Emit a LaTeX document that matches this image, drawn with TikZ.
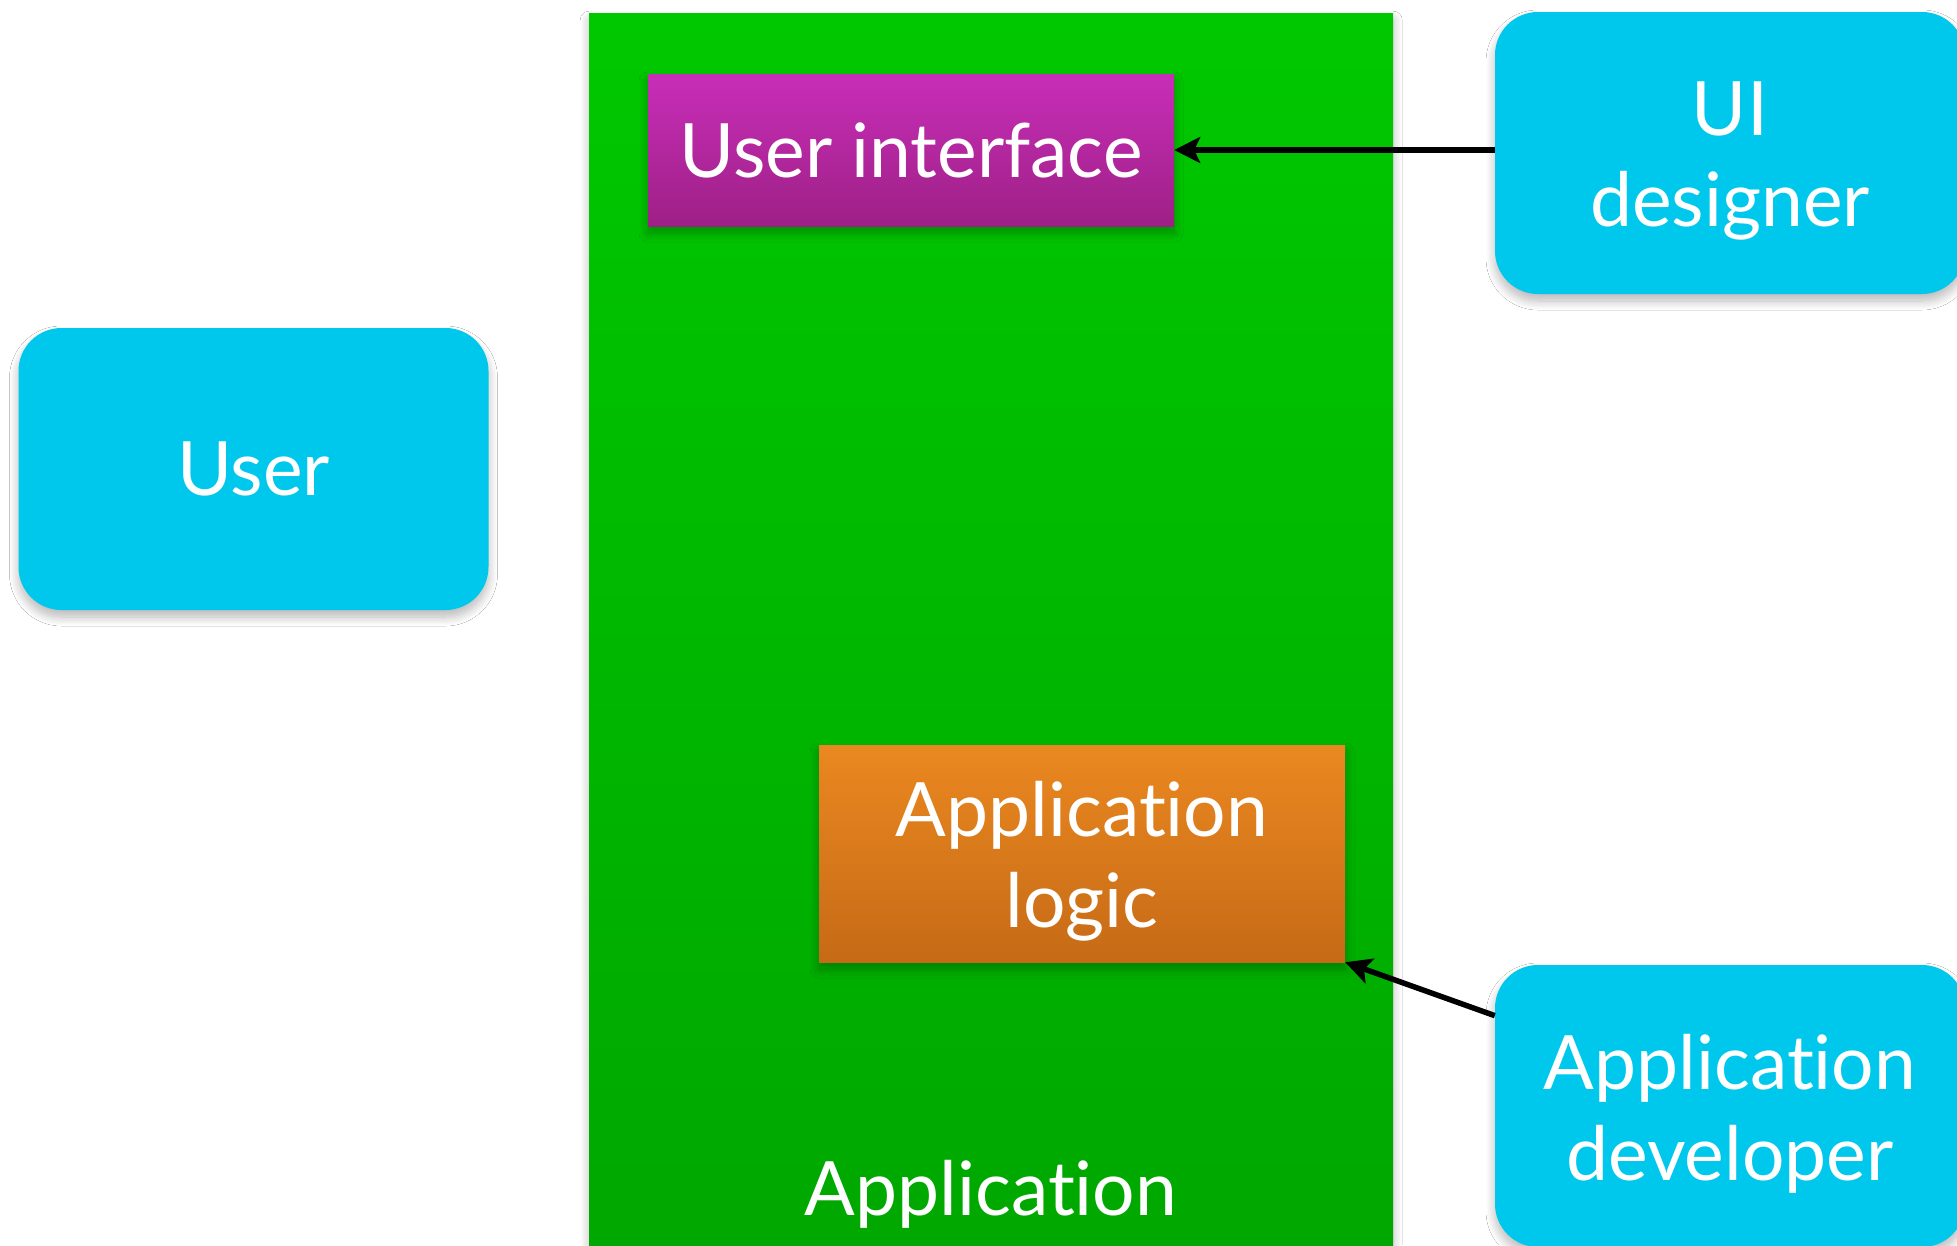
\documentclass[tikz,border=0pt]{standalone}
\usepackage{fontspec}
\setmainfont[Ligatures=NoCommon]{Lato}
\usetikzlibrary{shadows.blur,arrows.meta,calc}
\definecolor{actorcyan}{RGB}{0,200,236}
\definecolor{apptop}{RGB}{0,200,0}
\definecolor{appbot}{RGB}{0,166,0}
\definecolor{uitop}{RGB}{200,46,184}
\definecolor{uibot}{RGB}{158,32,134}
\definecolor{logictop}{RGB}{234,136,32}
\definecolor{logicbot}{RGB}{198,106,22}
\tikzset{
  softshadow/.style={blur shadow={shadow xshift=0pt,shadow yshift=-7pt,shadow blur radius=9pt,shadow blur steps=12,shadow opacity=28}},
  actor/.style={softshadow,fill=actorcyan,rounded corners=43pt,minimum width=470pt,minimum height=282pt,
    text=white,align=center,font=\fontsize{75}{91}\selectfont,inner sep=0pt},
  layer/.style={softshadow,text=white,align=center,font=\fontsize{75}{91}\selectfont,inner sep=0pt},
  twoline/.style={text height=161pt},
  conn/.style={line width=5.5pt,-{Stealth[length=26pt,width=26pt,inset=6pt]}},
  biglabel/.style={text=white,font=\fontsize{75}{91}\selectfont,inner sep=0pt}
}
\begin{document}
\begin{tikzpicture}[x=1pt,y=-1pt]
\useasboundingbox[fill=white] (0,0) rectangle (1957,1245);
% application container
\node[softshadow,top color=apptop,bottom color=appbot,minimum width=804pt,minimum height=1280pt,anchor=north west,inner sep=0pt] (app) at (589,13) {};
\node[biglabel] (applabel) at (991,1194) {Application};
% layers
\node[layer,top color=uitop,bottom color=uibot,minimum width=526pt,minimum height=152pt] (ui) at (911,150) {User interface};
\node[layer,twoline,top color=logictop,bottom color=logicbot,minimum width=526pt,minimum height=217pt] (logic) at (1082,853.5) {Application\\logic};
% actors
\node[actor] (user) at (253.5,469) {User};
\node[actor,twoline] (uid) at (1730,153) {UI\\designer};
\node[actor,twoline] (dev) at (1730,1106) {Application\\developer};
% connectors
\coordinate (devstart) at ($(dev.north west)!0.18!(dev.south west)$);
\draw[conn] (uid.west |- ui.east) -- (ui.east);
\draw[conn] (devstart) -- (logic.south east);
\end{tikzpicture}
\end{document}
